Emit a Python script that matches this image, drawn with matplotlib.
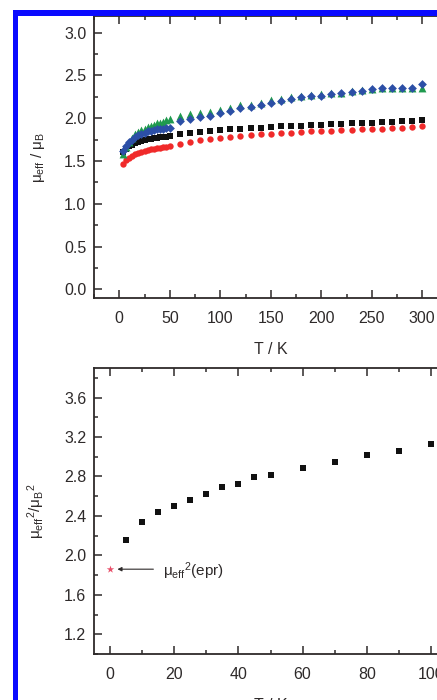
import matplotlib
matplotlib.use("Agg")
import matplotlib.pyplot as plt
from matplotlib.patches import Rectangle
from matplotlib.ticker import MultipleLocator

plt.rcParams["font.family"] = ["Liberation Sans", "DejaVu Sans"]
plt.rcParams["mathtext.fontset"] = "custom"
plt.rcParams["mathtext.rm"] = "Liberation Sans"
plt.rcParams["mathtext.it"] = "Liberation Sans:italic"

INK = "#2e2a2a"
BORDER = "#0a0aff"

# top panel: mu_eff vs T, four samples
t_top = [4, 7, 10, 13, 16, 19, 22, 25, 28, 31, 34, 37, 40, 43, 46, 50,
         60, 70, 80, 90, 100, 110, 120, 130, 140, 150, 160, 170, 180, 190,
         200, 210, 220, 230, 240, 250, 260, 270, 280, 290, 300]
mu_black = [1.60, 1.64, 1.67, 1.69, 1.71, 1.725, 1.735, 1.745, 1.755, 1.76, 1.765, 1.77, 1.775, 1.78, 1.785, 1.79,
            1.81, 1.825, 1.835, 1.85, 1.86, 1.87, 1.875, 1.885, 1.89, 1.90, 1.905, 1.91, 1.915, 1.92,
            1.925, 1.93, 1.935, 1.94, 1.945, 1.95, 1.955, 1.96, 1.965, 1.97, 1.98]
mu_red = [1.47, 1.51, 1.54, 1.56, 1.58, 1.595, 1.61, 1.62, 1.63, 1.64, 1.645, 1.65, 1.655, 1.66, 1.665, 1.672,
          1.70, 1.72, 1.74, 1.755, 1.77, 1.78, 1.79, 1.80, 1.81, 1.82, 1.825, 1.83, 1.84, 1.845,
          1.85, 1.855, 1.86, 1.865, 1.87, 1.875, 1.88, 1.885, 1.89, 1.895, 1.905]
mu_green = [1.58, 1.66, 1.72, 1.77, 1.81, 1.84, 1.86, 1.88, 1.895, 1.91, 1.925, 1.94, 1.95, 1.96, 1.975, 1.995,
            2.03, 2.045, 2.065, 2.07, 2.10, 2.125, 2.15, 2.16, 2.18, 2.21, 2.23, 2.245, 2.265, 2.27,
            2.28, 2.29, 2.30, 2.315, 2.33, 2.345, 2.355, 2.355, 2.355, 2.355, 2.35]
mu_blue = [1.62, 1.68, 1.72, 1.75, 1.78, 1.80, 1.815, 1.83, 1.845, 1.855, 1.865, 1.87, 1.875, 1.88, 1.885, 1.89,
           1.965, 1.99, 2.02, 2.025, 2.06, 2.09, 2.115, 2.13, 2.15, 2.18, 2.20, 2.225, 2.245, 2.255,
           2.265, 2.28, 2.29, 2.305, 2.32, 2.34, 2.35, 2.35, 2.35, 2.35, 2.40]

# bottom panel: mu_eff^2 vs T (low T), plus epr point
t_low = [5, 10, 15, 20, 25, 30, 35, 40, 45, 50, 60, 70, 80, 90, 100]
mu2_low = [2.16, 2.34, 2.44, 2.50, 2.56, 2.62, 2.69, 2.72, 2.79, 2.82, 2.89, 2.95, 3.02, 3.06, 3.13]
t_epr = [0]
mu2_epr = [1.86]

W, H = 437, 700
fig = plt.figure(figsize=(W / 100, H / 100), dpi=100)
fig.patch.set_facecolor("white")


def px_axes(left, top, width, bottom):
    return fig.add_axes([left / W, 1 - bottom / H, width / W, (bottom - top) / H])


def style(ax):
    for s in ax.spines.values():
        s.set_color(INK)
        s.set_linewidth(1.3)
    ax.tick_params(which="both", direction="in", top=True, right=True, colors=INK,
                   labelsize=11.5, width=1.1)
    ax.tick_params(which="major", length=5.5)
    ax.tick_params(which="minor", length=2.8)
    ax.tick_params(axis="x", pad=9.5)
    ax.tick_params(axis="y", pad=5.5)


ax1 = px_axes(94, 15.5, 353.5, 298)
ax1.scatter(t_top, mu_black, marker="s", s=20, color="#111111", lw=0, zorder=3)
ax1.scatter(t_top, mu_red, marker="o", s=21, color="#f02a2a", lw=0, zorder=3)
ax1.scatter(t_top, mu_green, marker="^", s=32, color="#1f9a4e", lw=0, zorder=3)
ax1.scatter(t_top, mu_blue, marker="D", s=20, color="#2c4fa6", lw=0, zorder=4)
ax1.set_xlim(-25, 325)
ax1.set_ylim(-0.1, 3.2)
ax1.xaxis.set_major_locator(MultipleLocator(50))
ax1.xaxis.set_minor_locator(MultipleLocator(25))
ax1.set_yticks([0.0, 0.5, 1.0, 1.5, 2.0, 2.5, 3.0])
ax1.set_yticklabels(["0.0", "0.5", "1.0", "1.5", "2.0", "2.5", "3.0"])
ax1.yaxis.set_minor_locator(MultipleLocator(0.25))
style(ax1)

ax2 = px_axes(94, 368, 353, 654)
ax2.scatter(t_low, mu2_low, marker="s", s=22, color="#111111", lw=0, zorder=3)
ax2.scatter(t_epr, mu2_epr, marker="*", s=32, color="#e8506a", lw=0, zorder=3)
ax2.set_xlim(-5, 105)
ax2.set_ylim(1.0, 3.9)
ax2.xaxis.set_major_locator(MultipleLocator(20))
ax2.xaxis.set_minor_locator(MultipleLocator(10))
ax2.set_yticks([1.2, 1.6, 2.0, 2.4, 2.8, 3.2, 3.6])
ax2.set_yticklabels(["1.2", "1.6", "2.0", "2.4", "2.8", "3.2", "3.6"])
ax2.yaxis.set_minor_locator(MultipleLocator(0.2))
style(ax2)
ax2.annotate("", xy=(t_epr[0] + 2.3, mu2_epr[0]), xytext=(13.5, mu2_epr[0]),
             arrowprops=dict(arrowstyle="-|>", color=INK, lw=0.8, mutation_scale=6,
                             shrinkA=0, shrinkB=0))
ax2.text(16.5, mu2_epr[0] - 0.02, r"μ$_{\rm eff}{}^{2}$(epr)", color=INK, fontsize=11,
         ha="left", va="center")

# axis labels
fig.text(271 / W, 1 - 350 / H, "T / K", color=INK, fontsize=11.5, ha="center", va="center")
fig.text(271 / W, 1 - 705 / H, "T / K", color=INK, fontsize=11.5, ha="center", va="center")
fig.text(38 / W, 1 - 157 / H, r"μ$_{\rm eff}$ / μ$_{\rm B}$", color=INK, fontsize=11,
         rotation=90, ha="center", va="center")
fig.text(36 / W, 1 - 511 / H, r"μ$_{\rm eff}{}^{2}$/μ$_{\rm B}{}^{2}$", color=INK, fontsize=11,
         rotation=90, ha="center", va="center")

# blue frame on the left and top edges
fig.add_artist(Rectangle((13 / W, 0), 4.5 / W, 1 - 10 / H, transform=fig.transFigure,
                         facecolor=BORDER, edgecolor="none", zorder=10))
fig.add_artist(Rectangle((13 / W, 1 - 15.5 / H), 1, 5.5 / H, transform=fig.transFigure,
                         facecolor=BORDER, edgecolor="none", zorder=10))

fig.savefig("out.png", dpi=100, facecolor="white")
plt.close(fig)
